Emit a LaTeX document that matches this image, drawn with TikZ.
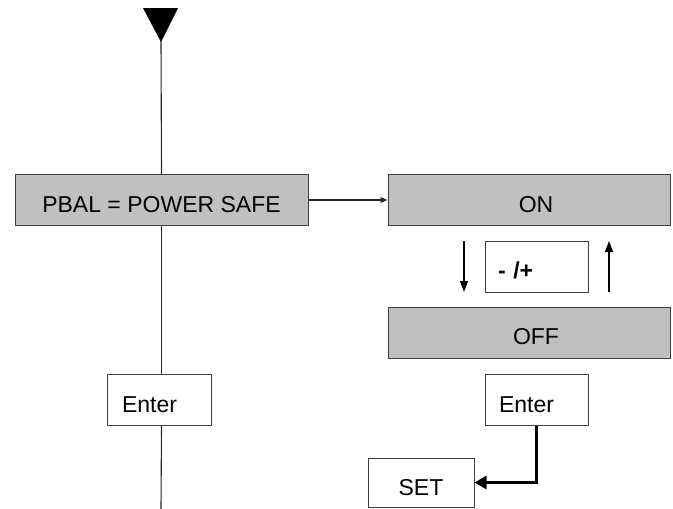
\documentclass[tikz,border=0pt]{standalone}
\usepackage{fontspec}
\setmainfont{Liberation Sans}
\usetikzlibrary{arrows.meta,calc}
\definecolor{boxgray}{HTML}{C0C0C0}
\definecolor{edgegray}{HTML}{404040}
\definecolor{linegray}{HTML}{262626}
\begin{document}
\begin{tikzpicture}[x=1pt,y=-1pt,
  every node/.style={font=\fontsize{23}{27}\selectfont, inner ysep=0pt, text height=24.5pt, text depth=0pt},
  graybox/.style={draw=edgegray, line width=1pt, fill=boxgray, minimum height=51pt, inner xsep=0pt},
  keybox/.style={draw=edgegray, line width=1pt, fill=white, minimum height=51pt, align=left},
  conn/.style={draw=linegray, line width=1.1pt},
  smallarrow/.style={conn, -{Triangle[length=7pt,width=5.5pt]}},
  vertarrow/.style={draw=black, line width=1.2pt, -{Triangle[length=11pt,width=8pt]}},
  thickarrow/.style={draw=black, line width=3pt, -{Triangle[length=12pt,width=13pt]}}]
\useasboundingbox (0,0) rectangle (673,509);

% start triangle
\fill[black] (143,8) -- (178,8) -- (161,42) -- cycle;
\coordinate (tip) at (161,41);
\coordinate (bottom) at (161,509);

% nodes
\node[graybox, minimum width=293pt] (pbal) at (161.5,200) {PBAL = POWER SAFE};
\node[graybox, minimum width=282pt] (on) at (529,200) {\hspace*{14pt}ON};
\node[graybox, minimum width=282pt] (off) at (529,332.5) {\hspace*{14pt}OFF};
\node[keybox, inner xsep=13pt, text width=77pt] (pm) at (536.5,266.5) {\bfseries - /+};
\node[keybox, inner xsep=15pt, text width=74pt] (enterL) at (159,400) {Enter};
\node[keybox, inner xsep=14pt, text width=75pt] (enterR) at (536.5,400) {Enter};
\node[keybox, minimum width=106pt, minimum height=49pt, inner xsep=0pt, align=center, text height=26pt] (set) at (421,482.5) {SET};

% up/down arrows
\coordinate (dnA) at (464,241);
\coordinate (dnB) at (464,292);
\coordinate (upA) at (609,292);
\coordinate (upB) at (609,241);

% connectors
\draw[conn] (tip) -- (pbal.north);
\draw[smallarrow] (pbal.east) -- (on.west);
\draw[conn] (pbal.south) -- (pbal.south |- enterL.north);
\draw[conn] (pbal.south |- enterL.south) -- (bottom);
\draw[vertarrow] (dnA) -- (dnB);
\draw[vertarrow] (upA) -- (upB);
\draw[thickarrow] (enterR.south) |- (set.east);
\end{tikzpicture}
\end{document}
